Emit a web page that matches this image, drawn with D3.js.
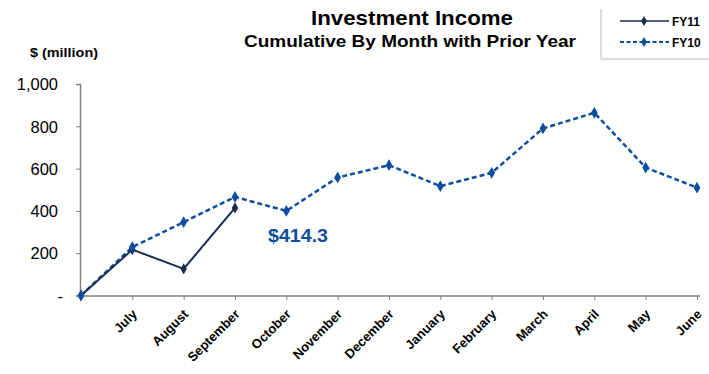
<!DOCTYPE html>
<html>
<head>
<meta charset="utf-8">
<script src="https://cdn.jsdelivr.net/npm/d3@7/dist/d3.min.js"></script>
<style>
  html, body { margin: 0; padding: 0; background: #fff; }
  svg { display: block; font-family: "Liberation Sans", Arial, sans-serif; }
</style>
</head>
<body>
<svg id="chart" width="709" height="374"></svg>
<script>
// Category slots: a blank starting point followed by the fiscal months
const months = ["", "July", "August", "September", "October", "November", "December",
                "January", "February", "March", "April", "May", "June"];
// Cumulative investment income, $ million
const fy11 = [0, 217, 126, 414.3];
const fy10 = [0, 229, 347, 466, 400, 558, 616, 517, 580, 790, 864, 605, 510];
const yTicks = [0, 200, 400, 600, 800, 1000];
const yTickLabels = ["-", "200", "400", "600", "800", "1,000"];
const seriesNames = ["FY11", "FY10"];
const calloutText = "$414.3";

const svg = d3.select("#chart");
const navy = "#1c2b52";
const blue = "#0d4f9e";
const axisGray = "#808080";

const x = d3.scalePoint().domain(months.map((m, i) => i)).range([81, 697]);
const y = d3.scaleLinear().domain([0, 1000]).range([295.5, 84]);

// Titles
svg.append("text").attr("x", 412).attr("y", 25).attr("text-anchor", "middle")
  .attr("font-size", 21).attr("font-weight", "bold").attr("fill", "#000")
  .attr("textLength", 202).attr("lengthAdjust", "spacingAndGlyphs")
  .text("Investment Income");
svg.append("text").attr("x", 410).attr("y", 47).attr("text-anchor", "middle")
  .attr("font-size", 17).attr("font-weight", "bold").attr("fill", "#000")
  .attr("textLength", 332).attr("lengthAdjust", "spacingAndGlyphs")
  .text("Cumulative By Month with Prior Year");

// Unit label
svg.append("text").attr("x", 30).attr("y", 57)
  .attr("font-size", 13).attr("font-weight", "bold").attr("fill", "#000")
  .attr("textLength", 68).attr("lengthAdjust", "spacingAndGlyphs")
  .text("$ (million)");

// Y axis
const yAxis = d3.axisLeft(y).tickValues(yTicks).tickSize(4).tickPadding(0)
  .tickFormat((d, i) => yTickLabels[i]);
const gy = svg.append("g").attr("transform", "translate(80,0)").call(yAxis);
gy.select(".domain").attr("stroke", axisGray).attr("stroke-width", 1.5);
gy.selectAll(".tick line").attr("stroke", axisGray);
gy.selectAll(".tick text")
  .attr("font-size", 16.5).attr("fill", "#000").attr("font-family", "\"Liberation Sans\", Arial, sans-serif")
  .attr("x", d => d === 0 ? -17 : -22).attr("dy", "0.35em");

// X axis
const xAxis = d3.axisBottom(x).tickSize(4).tickSizeOuter(0).tickFormat(i => months[i]);
const gx = svg.append("g").attr("transform", "translate(0,296)").call(xAxis);
gx.select(".domain").attr("stroke", axisGray).attr("stroke-width", 1.5)
  .attr("d", "M80,0H700");
gx.selectAll(".tick").filter(i => i === 0).remove();
gx.selectAll(".tick line").attr("stroke", axisGray);
gx.selectAll(".tick text")
  .attr("font-size", 13).attr("font-weight", "bold").attr("fill", "#000")
  .attr("font-family", "\"Liberation Sans\", Arial, sans-serif")
  .attr("text-anchor", "end").attr("dy", 0).attr("y", 0)
  .attr("transform", "translate(5,19) rotate(-45)");

const line = d3.line().x((d, i) => x(i)).y(d => y(d));
const diamond = d3.symbol().type(d3.symbolDiamond);

// FY10 (prior year) dashed series
svg.append("path").datum(fy10).attr("d", line).attr("fill", "none")
  .attr("stroke", blue).attr("stroke-width", 2.5).attr("stroke-dasharray", "5,3");

// FY11 solid series
svg.append("path").datum(fy11).attr("d", line).attr("fill", "none")
  .attr("stroke", navy).attr("stroke-width", 2);
svg.append("g").selectAll("path").data(fy11).join("path")
  .attr("d", diamond.size(36)).attr("fill", navy)
  .attr("transform", (d, i) => `translate(${x(i)},${y(d)})`);

svg.append("g").selectAll("path").data(fy10).join("path")
  .attr("d", diamond.size(40)).attr("fill", blue)
  .attr("transform", (d, i) => `translate(${x(i)},${y(d)})`);

// Callout for the latest FY11 value
svg.append("text").attr("x", 268).attr("y", 242)
  .attr("font-size", 18).attr("font-weight", "bold").attr("fill", blue)
  .attr("textLength", 60).attr("lengthAdjust", "spacingAndGlyphs")
  .text(calloutText);

// Legend
const lg = svg.append("g");
lg.append("path").attr("d", "M601,9V59H709").attr("fill", "none")
  .attr("stroke", "#bbb").attr("stroke-width", 1);
const legendRows = [
  { name: seriesNames[0], color: navy, dash: null, w: 1.5, yy: 21 },
  { name: seriesNames[1], color: blue, dash: "4,2.5", w: 2, yy: 42 }
];
legendRows.forEach(r => {
  lg.append("line").attr("x1", 620).attr("x2", 669).attr("y1", r.yy).attr("y2", r.yy)
    .attr("stroke", r.color).attr("stroke-width", r.w).attr("stroke-dasharray", r.dash);
  lg.append("path").attr("d", diamond.size(30)).attr("fill", r.color)
    .attr("transform", `translate(644,${r.yy})`);
  lg.append("text").attr("x", 672).attr("y", r.yy + 4.5)
    .attr("font-size", 12).attr("font-weight", "bold").attr("fill", "#000")
    .text(r.name);
});
</script>
</body>
</html>
